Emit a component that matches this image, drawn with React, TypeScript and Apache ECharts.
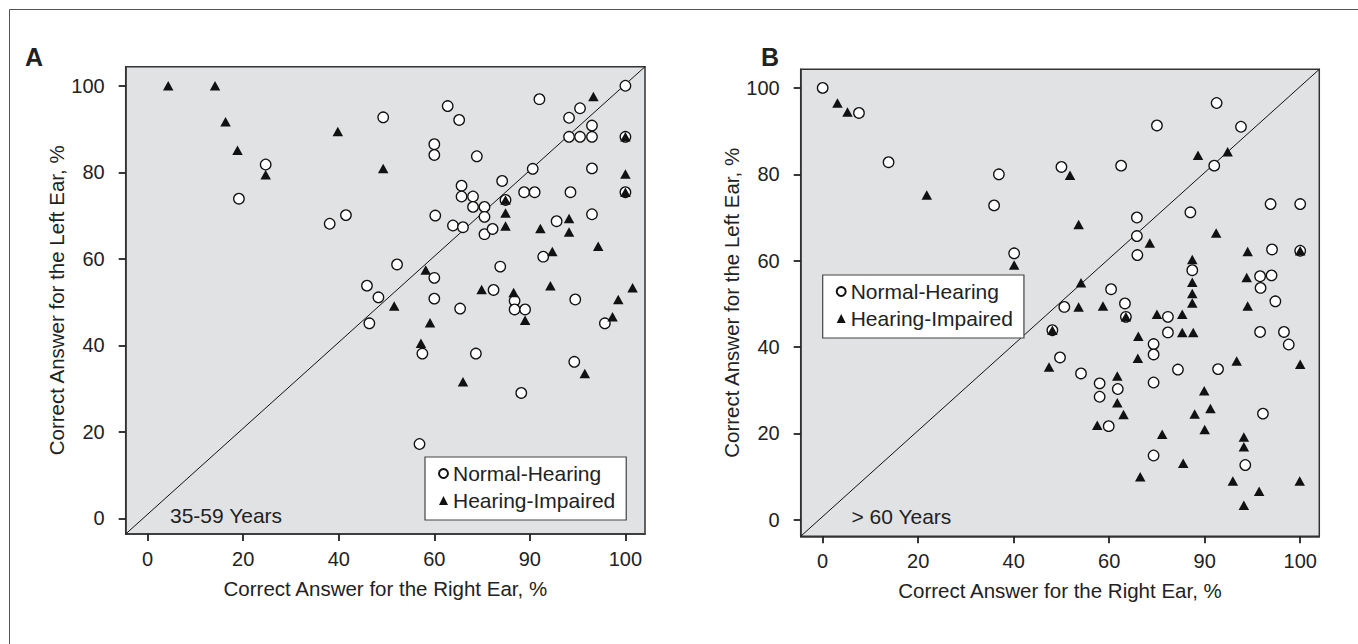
import React, { useEffect, useRef } from "react";
import * as echarts from "echarts";

// ---- data ----
const tickValues = [0, 20, 40, 60, 80, 100];
const xTickLabels = ["0", "20", "40", "60", "90", "100"];
const yTickLabels = ["0", "20", "40", "60", "80", "100"];
const seriesNames = ["Normal-Hearing", "Hearing-Impaired"];
const panelLetters = ["A", "B"];
const ageGroups = ["35-59 Years", "> 60 Years"];
const xTitle = "Correct Answer for the Right Ear, %";
const yTitle = "Correct Answer for the Left Ear, %";

const aNormal = [
  [24.7, 81.8], [19.1, 73.9], [49.3, 92.7], [38.1, 68.1], [41.5, 70.1], [45.9, 53.8], [48.3, 51.1],
  [46.4, 45.1], [62.8, 95.3], [65.2, 92.1], [60.0, 86.5], [60.0, 84.0], [68.9, 83.7], [82.0, 96.9],
  [100, 100], [88.2, 92.6], [90.5, 94.8], [93.0, 90.8], [88.2, 88.2], [90.5, 88.2], [93.0, 88.2],
  [100, 88.2], [80.6, 80.8], [93.0, 80.9], [100, 75.4], [88.5, 75.4], [78.8, 75.4], [81.0, 75.4],
  [74.2, 78.0], [65.7, 76.9], [65.7, 74.4], [68.1, 74.4], [68.1, 72.0], [70.5, 72.0], [70.5, 69.7],
  [74.9, 73.6], [60.2, 70.0], [63.9, 67.7], [66.0, 67.3], [70.5, 65.7], [72.2, 66.9], [85.6, 68.7],
  [93.0, 70.3], [82.8, 60.5], [52.2, 58.7], [60.0, 55.6], [73.8, 58.2], [72.4, 52.8], [60.0, 50.8],
  [76.8, 50.3], [89.5, 50.6], [65.4, 48.5], [76.8, 48.3], [79.0, 48.3], [57.5, 38.1], [68.7, 38.1],
  [78.2, 29.0], [89.3, 36.2], [56.9, 17.2], [95.7, 45.1],
];
const aImpaired = [
  [4.3, 100], [14.1, 100], [16.3, 91.7], [18.8, 85.1], [24.7, 79.4], [39.8, 89.4], [49.3, 80.9],
  [93.3, 97.5], [100, 88.2], [100, 79.6], [100, 75.4], [74.9, 73.6], [74.9, 70.6], [74.9, 67.6],
  [82.2, 67.0], [88.2, 69.3], [88.2, 66.2], [94.3, 62.9], [84.7, 61.7], [58.2, 57.4], [69.9, 52.9],
  [76.6, 52.2], [84.3, 53.8], [98.5, 50.6], [101.5, 53.3], [51.6, 49.1], [79.0, 45.8], [59.1, 45.2],
  [57.2, 40.5], [66.0, 31.6], [91.5, 33.5], [97.3, 46.6],
];
const bNormal = [
  [0, 100], [7.6, 94.2], [13.8, 82.8], [36.9, 80.0], [35.9, 72.8], [40.1, 61.7], [50.0, 81.7],
  [62.5, 82.0], [70.0, 91.3], [82.5, 96.5], [87.6, 91.0], [82.0, 82.0], [93.8, 73.1], [100, 73.1],
  [65.8, 70.0], [77.0, 71.2], [65.8, 65.7], [65.9, 61.3], [94.1, 62.6], [100, 62.3], [60.4, 53.4],
  [77.4, 57.8], [91.6, 56.4], [94.0, 56.6], [91.7, 53.7], [94.8, 50.6], [50.6, 49.3], [63.3, 50.1],
  [63.5, 47.0], [48.1, 43.9], [72.3, 47.0], [72.3, 43.4], [69.3, 40.7], [69.3, 38.3], [49.7, 37.6],
  [54.1, 33.9], [58.0, 31.6], [58.0, 28.5], [61.8, 30.3], [59.9, 21.7], [69.3, 31.8], [74.4, 34.8],
  [82.8, 34.9], [91.6, 43.5], [96.6, 43.5], [97.6, 40.6], [92.2, 24.6], [69.3, 14.9], [88.5, 12.7],
];
const bImpaired = [
  [3.1, 96.5], [5.2, 94.4], [21.8, 75.2], [40.1, 59.0], [51.8, 79.8], [78.6, 84.4], [84.8, 85.2],
  [53.6, 68.4], [82.4, 66.4], [68.5, 64.1], [89.0, 62.1], [100, 62.3], [54.1, 54.9], [77.4, 60.3],
  [77.4, 55.0], [77.4, 52.4], [77.4, 50.2], [88.8, 56.1], [53.6, 49.3], [58.7, 49.5], [89.0, 49.5],
  [63.5, 47.0], [48.1, 43.9], [70.0, 47.6], [75.3, 47.6], [75.3, 43.4], [77.6, 43.4], [66.1, 42.5],
  [66.0, 37.4], [47.4, 35.4], [61.7, 33.3], [61.7, 27.1], [63.0, 24.4], [57.5, 21.9], [86.7, 36.8],
  [100, 36.0], [79.9, 29.9], [81.2, 25.8], [77.9, 24.5], [80.0, 20.9], [71.1, 19.8], [75.5, 13.1],
  [66.5, 10.0], [88.2, 19.2], [88.2, 16.9], [85.9, 9.0], [91.4, 6.6], [88.2, 3.4], [99.9, 9.0],
];

// ---- layout / style ----
const FONT = "'Liberation Sans', Arial, Helvetica, sans-serif";
const TEXT = "#222";
const panels = [
  {
    grid: { left: 125.7, top: 66.7, width: 519.3, height: 467.3 },
    x: [-4.6, 104.1], y: [-3.6, 104.4],
    normal: aNormal, impaired: aImpaired,
    legend: { left: 425, top: 457 },
    letter: { x: 25, y: 56.5 },
    note: { x: 170, y: 515 },
    titleGap: 48.5,
  },
  {
    grid: { left: 800.7, top: 69.3, width: 518.6, height: 467 },
    x: [-4.6, 104.0], y: [-3.8, 104.3],
    normal: bNormal, impaired: bImpaired,
    legend: { left: 822.7, top: 275 },
    letter: { x: 761, y: 57 },
    note: { x: 851.5, y: 516 },
    titleGap: 48.5,
  },
];

function buildOption() {
  const grid: any[] = [];
  const xAxis: any[] = [];
  const yAxis: any[] = [];
  const series: any[] = [];
  const legend: any[] = [];
  const graphic: any[] = [
    { type: "line", shape: { x1: 9.5, y1: 9.5, x2: 1358, y2: 9.5 }, style: { stroke: "#555", lineWidth: 1 }, silent: true },
    { type: "line", shape: { x1: 9.5, y1: 9.5, x2: 9.5, y2: 644 }, style: { stroke: "#555", lineWidth: 1 }, silent: true },
  ];

  panels.forEach((p, i) => {
    grid.push({
      ...p.grid,
      show: true,
      backgroundColor: "#e1e2e4",
      borderColor: "#333",
      borderWidth: 1.5,
      containLabel: false,
    });
    const tick = {
      show: true,
      length: 7,
      inside: false,
      lineStyle: { color: TEXT, width: 1.8 },
      customValues: tickValues,
    };
    const line = { show: true, onZero: false, lineStyle: { color: "#333", width: 1.5 } };
    xAxis.push({
      type: "value",
      gridIndex: i,
      min: p.x[0],
      max: p.x[1],
      axisLine: line,
      splitLine: { show: false },
      axisTick: tick,
      axisLabel: {
        customValues: tickValues,
        formatter: (v: number) => xTickLabels[tickValues.indexOf(v)] ?? "",
        margin: 15,
        fontSize: 20,
        color: TEXT,
        fontFamily: FONT,
      },
      name: xTitle,
      nameLocation: "middle",
      nameGap: 44,
      nameTextStyle: { fontSize: 20.5, color: TEXT, fontFamily: FONT },
    });
    yAxis.push({
      type: "value",
      gridIndex: i,
      min: p.y[0],
      max: p.y[1],
      axisLine: line,
      splitLine: { show: false },
      axisTick: tick,
      axisLabel: {
        customValues: tickValues,
        formatter: (v: number) => yTickLabels[tickValues.indexOf(v)] ?? "",
        margin: 21,
        fontSize: 20,
        color: TEXT,
        fontFamily: FONT,
      },
      name: yTitle,
      nameLocation: "middle",
      nameGap: p.titleGap,
      nameTextStyle: { fontSize: 20.5, color: TEXT, fontFamily: FONT },
    });
    series.push({
      type: "line",
      xAxisIndex: i,
      yAxisIndex: i,
      data: [[p.x[0], p.y[0]], [p.x[1], p.y[1]]],
      symbol: "none",
      silent: true,
      lineStyle: { color: "#111", width: 1 },
      z: 1,
      clip: true,
    });
    series.push({
      name: seriesNames[0],
      type: "scatter",
      xAxisIndex: i,
      yAxisIndex: i,
      data: p.normal,
      symbol: "circle",
      symbolSize: 10.5,
      itemStyle: { color: "#fff", borderColor: "#111", borderWidth: 1.3, opacity: 1 },
      z: 2,
    });
    series.push({
      name: seriesNames[1],
      type: "scatter",
      xAxisIndex: i,
      yAxisIndex: i,
      data: p.impaired,
      symbol: "triangle",
      symbolSize: [10.5, 9.5],
      itemStyle: { color: "#111", opacity: 1 },
      z: 3,
    });
    legend.push({
      show: true,
      orient: "vertical",
      left: p.legend.left,
      top: p.legend.top,
      data: seriesNames,
      itemWidth: 9,
      itemHeight: 9,
      itemGap: 6,
      padding: [6, 11, 9, 13],
      borderColor: "#444",
      borderWidth: 1.2,
      backgroundColor: "#fff",
      selectedMode: false,
      textStyle: { fontSize: 21, color: TEXT, fontFamily: FONT },
    });
    graphic.push({
      type: "text",
      x: p.letter.x,
      y: p.letter.y,
      silent: true,
      style: { text: panelLetters[i], fontSize: 25, fontWeight: "bold", fontFamily: FONT, fill: TEXT, align: "left", verticalAlign: "middle" },
    });
    graphic.push({
      type: "text",
      x: p.note.x,
      y: p.note.y,
      silent: true,
      z: 10,
      style: { text: ageGroups[i], fontSize: 21, fontFamily: FONT, fill: TEXT, align: "left", verticalAlign: "middle" },
    });
  });

  return {
    animation: false,
    backgroundColor: "#fff",
    grid,
    xAxis,
    yAxis,
    series,
    legend,
    graphic,
  };
}

export default function App() {
  const ref = useRef<HTMLDivElement>(null);
  useEffect(() => {
    if (!ref.current) return;
    const chart = echarts.init(ref.current, undefined, { renderer: "svg" });
    chart.setOption(buildOption() as any);
    return () => chart.dispose();
  }, []);
  return (
    <div
      ref={ref}
      style={{ position: "fixed", left: 0, top: 0, width: 1358, height: 644, background: "#fff" }}
    />
  );
}
